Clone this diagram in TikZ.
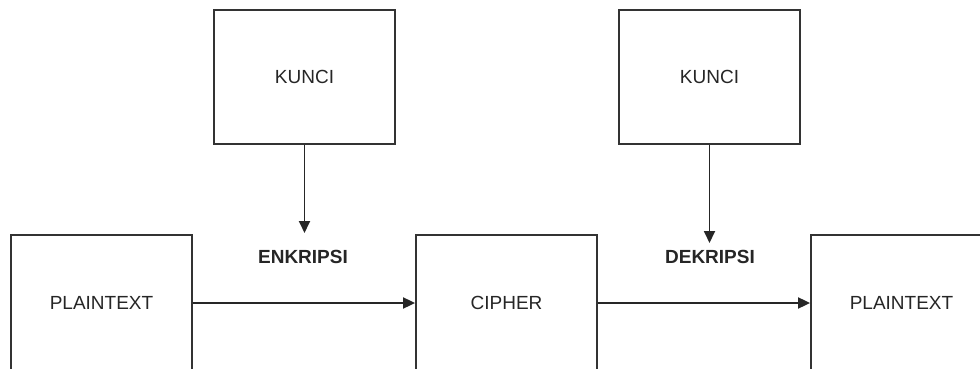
\documentclass[tikz,border=0pt]{standalone}
\usepackage{fontspec}
\setmainfont{Liberation Sans}
\usetikzlibrary{arrows.meta}
\begin{document}
\begin{tikzpicture}[x=1pt,y=-1pt,
  box/.style={draw=black!80,line width=1.8pt,rectangle,inner sep=0pt,minimum width=181pt,
    font=\fontsize{19}{22}\selectfont,text=black!85},
  topbox/.style={box,minimum height=134pt},
  botbox/.style={box,minimum height=136pt},
  lbl/.style={font=\fontsize{19}{22}\selectfont\bfseries,text=black!85,inner sep=0pt},
  conn/.style={draw=black!85,line width=1.8pt,-{Triangle[length=12pt,width=11pt]}}]
\useasboundingbox (0,0) rectangle (980,369);
\clip (0,0) rectangle (980,369);
\fill[white] (0,0) rectangle (980,369);
\node[topbox] (k1) at (304.5,77) {KUNCI};
\node[topbox] (k2) at (709.5,77) {KUNCI};
\node[botbox] (p1) at (101.5,303) {PLAINTEXT};
\node[botbox] (c) at (506.5,303) {CIPHER};
\node[botbox] (p2) at (901.5,303) {PLAINTEXT};
\node[lbl] (enc) at (303,257) {ENKRIPSI};
\node[lbl] (dec) at (710,257) {DEKRIPSI};
\coordinate (t1) at (304.5,233);
\coordinate (t2) at (709.5,243);
\draw[conn] (k1.south) -- (t1);
\draw[conn] (k2.south) -- (t2);
\draw[conn] (p1.east) -- (c.west);
\draw[conn] (c.east) -- (p2.west);
\end{tikzpicture}
\end{document}
